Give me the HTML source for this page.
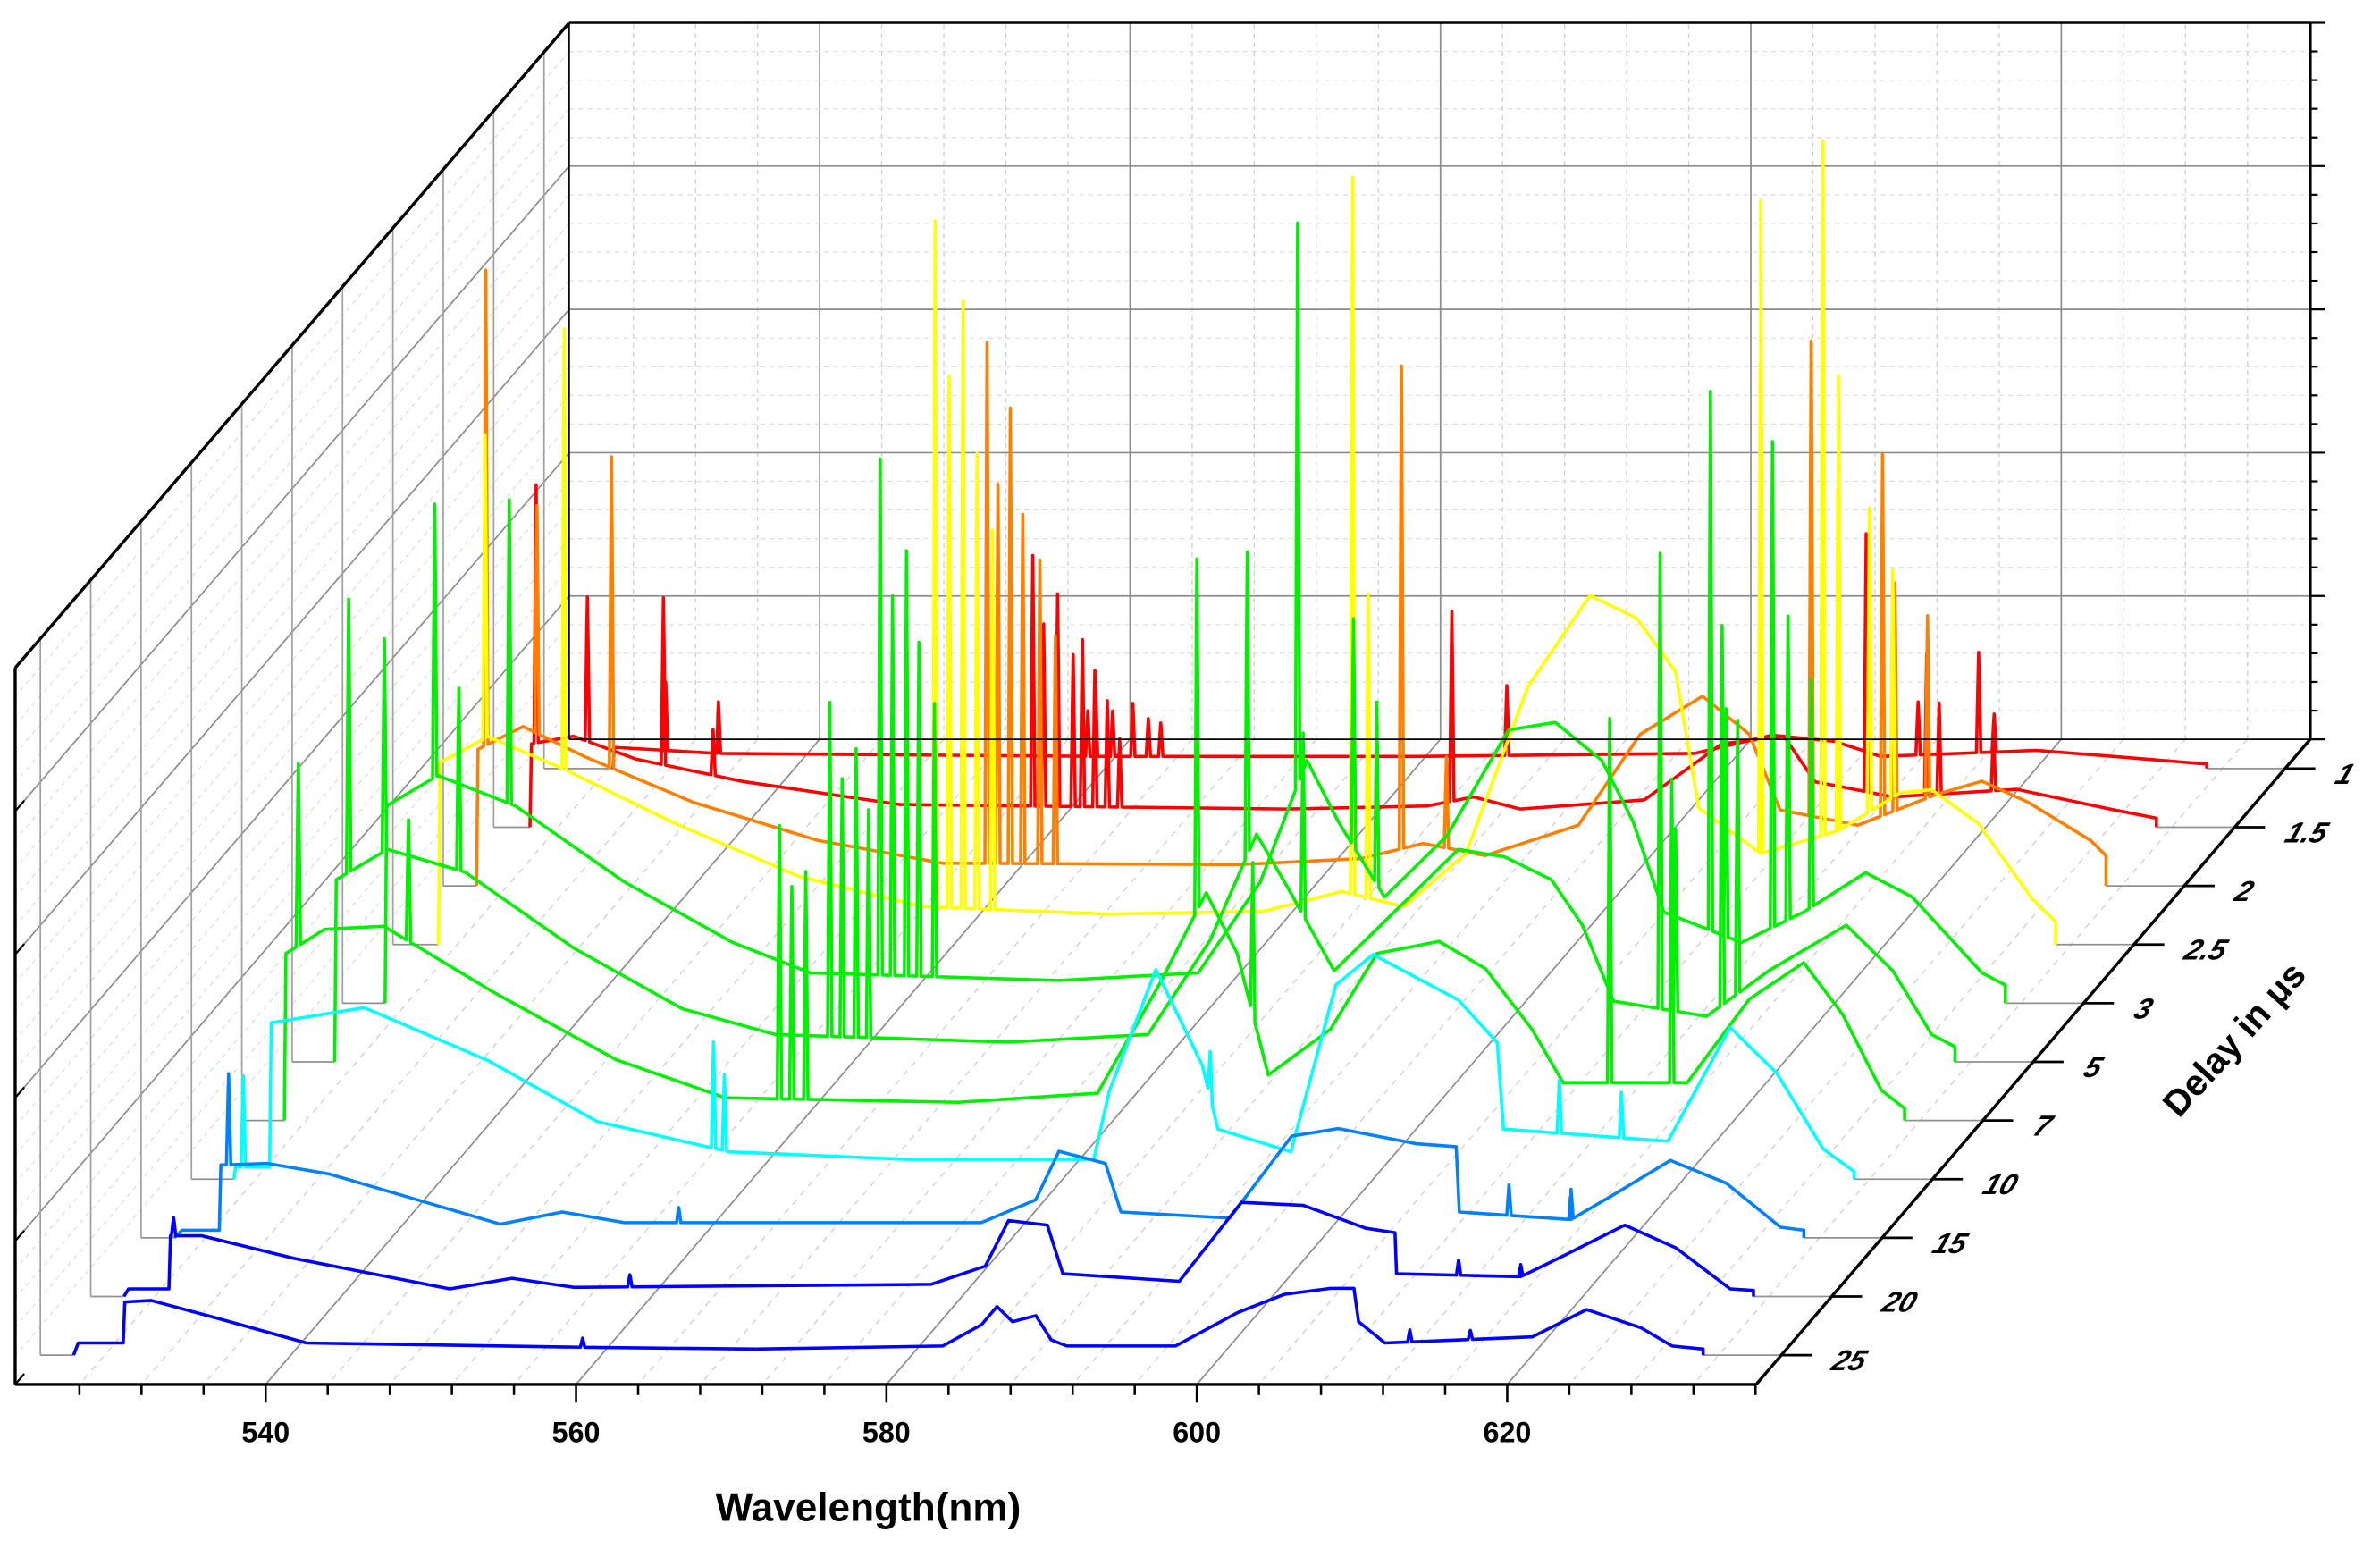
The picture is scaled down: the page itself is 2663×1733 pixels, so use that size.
<!DOCTYPE html>
<html><head><meta charset="utf-8"><title>Time-resolved spectra waterfall</title>
<style>
html,body{margin:0;padding:0;background:#fff;}
svg{display:block;}
text{font-family:"Liberation Sans",Arial,sans-serif;font-weight:bold;fill:#000;}
</style></head>
<body>
<svg id="chart" width="2663" height="1733" viewBox="0 0 1568 1020.4" preserveAspectRatio="none" xmlns="http://www.w3.org/2000/svg">
  <g id="grid"></g>
  <g id="series"></g>
  <g id="axes"></g>
  <text x="572" y="1002" font-size="26" text-anchor="middle">Wavelength(nm)</text>
  <text x="0" y="0" font-size="24" text-anchor="middle" transform="translate(1478,690) rotate(-48)">Delay in μs</text>
</svg>
<script>
// ---- data ----
const delays = ["1","1.5","2","2.5","3","5","7","10","15","20","25"];
const colors = ["#ff0000","#ff0000","#ff8000","#ffff00","#00f000","#00f000","#00f000","#00ffff","#0080ff","#0000ff","#0000ff"];
const xTicks = [540,560,580,600,620];
const zTicks = [0,1,2,3,4,5];
// envelope [wavelength nm, intensity (a.u.)] per delay
const env0 = [[528.3,0],[528.4,14],[535,10],[560,8],[580,8],[598,10],[603,22],[607,18],[610,8],[620,12],[625,8],[631,3]];
const env1 = [[526.2,0],[526.3,55],[529,60],[533,45],[540,30],[550,15],[575,12],[584,14],[587,20],[590,12],[598,18],[603,55],[607,60],[609,30],[614,20],[622,25],[628,12],[631,6]];
const env2 = [[526.0,0],[526.1,90],[529,105],[533,85],[540,55],[548,30],[556,15],[575,14],[583,18],[587,28],[591,20],[597,40],[601,100],[605,125],[608,100],[610,50],[615,40],[620,60],[623,69],[626,55],[630,30],[631,20]];
const env3 = [[526.8,0],[526.9,120],[530,137],[535,115],[542,80],[550,45],[558,25],[570,20],[580,22],[585,35],[589,25],[593,60],[597,170],[601,230],[604,215],[606.5,180],[608,90],[612,60],[617,75],[621,100],[623,102],[626,80],[629.5,30],[631,15]];
const env4 = [[526.6,0],[526.7,130],[530,150],[535,130],[542,80],[549,40],[554,20],[570,15],[579,20],[583,80],[586,160],[588,120],[591,70],[595,110],[599,180],[602,185],[605,160],[607,120],[609,60],[614,40],[618,60],[622,86],[625,70],[629.5,20],[631,12]];
const env5 = [[526.6,0],[526.7,120],[530,140],[535,125],[542,75],[549,35],[555,18],[570,13],[579,18],[583,80],[586,150],[588,115],[591,60],[595,100],[599,140],[602,135],[605,120],[607,90],[609,40],[615,30],[619,60],[624,90],[627,60],[629.5,18],[631,10]];
const env6 = [[526.6,0],[526.7,110],[529.2,126],[533,128],[540,85],[548,40],[555,15],[570,12],[579,18],[583,90],[586,150],[588,110],[590,30],[594,60],[597,110],[601,118],[604,100],[607,60],[609,25],[617,25],[621,80],[624.5,104],[627,70],[629.5,20],[631,8]];
const env7 = [[526.6,0],[526.7,8],[528.9,8],[529,103],[535,113],[543,78],[550,38],[558.5,18],[570,13],[582,13],[583,58],[586,138],[589,75],[590,33],[594.7,18],[597.6,128],[600,148],[605.5,118],[608,90],[608.4,33],[619,25],[623,100],[626,70],[629,20],[631,5]];
const env8 = [[526,0],[526.5,5],[528.9,5],[529,48],[532,49],[536,42],[547,9],[551,17],[555,10],[578,10],[581.5,25],[583,57],[586,49],[587,17],[594,13],[598,67],[601,72],[606,62],[608.6,60],[608.8,17],[616,12],[619,30],[622.4,51],[626,36],[629.5,7],[631,5]];
const env9 = [[526,0],[526.3,5],[528.9,5],[529,40],[531,40],[537,25],[547,5],[551,12],[555,6],[578,8],[581.5,20],[583,50],[585.5,47],[586.5,15],[594,10],[598,62],[602,60],[606,45],[607.9,42],[608,15],[616,13],[619,28],[622.7,47],[626,32],[629.5,5],[631,4]];
const env10 = [[526,0],[526.3,8],[529.2,8],[529.3,35],[531,36],[535,25],[541,8],[560,5],[570,4],[582,6],[584.5,20],[585.5,32],[586.5,22],[588,26],[589,10],[590,6],[597,6],[601,28],[604,40],[607,44],[608.5,44],[608.8,22],[610.5,8],[620,12],[623.5,30],[627,18],[629,6],[631,4]];
// emission lines [wavelength nm, line height above continuum]
const pk0 = [[531.7,45],[535.1,34],[558.9,30],[559.4,46],[560.5,30],[561.8,35],[562.8,25],[563.6,22],[585.9,46],[612.4,35],[616.3,66],[617.3,25]];
const pk1 = [[526.6,170],[529.9,95],[534.8,110],[538,30],[558.6,165],[559.3,120],[560.2,140],[561.2,100],[561.8,110],[562.6,90],[563.4,70],[564.2,45],[585.6,125],[612.3,170],[616.2,93],[617,60],[620.5,40]];
const pk2 = [[526.6,313],[529.9,150],[534.7,205],[558.9,343],[559.6,250],[560.4,300],[561.2,230],[562.3,200],[563.3,150],[585.6,318],[588.5,60],[612,313],[616.6,238],[617.4,150],[619.5,120]];
const pk3 = [[526.9,452],[529.8,200],[534.9,290],[558.8,452],[559.7,350],[560.6,400],[561.5,300],[562.5,250],[585.7,472],[586.7,200],[612,430],[616,457],[617,300],[619,200],[620.5,150]];
const pk4 = [[526.7,345],[529.8,180],[534.6,200],[558.5,340],[559.3,250],[560.2,280],[561,220],[562,180],[585.4,370],[589,150],[590.5,120],[612,355],[613,150],[616,320],[617,200],[618.5,150]];
const pk5 = [[526.6,130],[527.5,180],[529.8,140],[534.6,120],[558.5,220],[559.3,170],[560.2,190],[561,150],[585.4,200],[589,120],[612,300],[613,120],[616,250],[617,180]];
const pk6 = [[526.6,173],[527.5,120],[534.6,80],[558.5,180],[559.3,140],[560.2,150],[585.4,232],[589,100],[612,240],[616,200]];
const pk7 = [[526.6,76],[527.2,60],[557.5,70],[558.2,50],[589.5,30],[612,35],[616,30]];
const pk8 = [[529.5,60],[558.5,10],[612,20],[616,20]];
const pk9 = [[529.2,12],[558.6,8],[612,10],[616,8]];
const pk10 = [[558.8,6],[612.1,8],[616,6]];
const envs = [env0,env1,env2,env3,env4,env5,env6,env7,env8,env9,env10];
const peaks = [pk0,pk1,pk2,pk3,pk4,pk5,pk6,pk7,pk8,pk9,pk10];

// ---- geometry ----
const WL0 = 523.86, WL1 = 636.04;
const FX0 = 10, FX1 = 1157, FY = 912, DX = 365, DY = 425, ZH = 472;
const NS = delays.length;
function xFront(wl){ return FX0 + (wl - WL0) * (FX1 - FX0) / (WL1 - WL0); }
function depthF(i){ return (i + 0.5) / NS; }   // 0 = back, 1 = front
function proj(wl, f, z){ return [xFront(wl) + DX*(1-f), FY - DY*(1-f) - z]; }
function zPix(u){ return u * ZH / 5; }
function zVal(v){ return v; } // intensity a.u. -> px
const NS_ = "http://www.w3.org/2000/svg";
function mk(tag, attrs, parent){ const e = document.createElementNS(NS_, tag); for (const k in attrs) e.setAttribute(k, attrs[k]); parent.appendChild(e); return e; }
const grid = document.getElementById('grid'), axes = document.getElementById('axes'), ser = document.getElementById('series');
function line(p, q, stroke, w, parent, dash){ const a = {x1:p[0],y1:p[1],x2:q[0],y2:q[1],stroke:stroke,'stroke-width':w}; if (dash) a['stroke-dasharray'] = dash; return mk('line', a, parent); }

// back wall grid
for (let wl = 528; wl <= 636; wl += 4) {
  const major = xTicks.indexOf(wl) >= 0;
  const l = line(proj(wl,0,0), proj(wl,0,ZH), major ? '#8c8c8c' : '#d0d0d0', major ? 1 : 0.8, grid, major ? null : '3,3');
  
  
  const fl = line(proj(wl,0,0), proj(wl,1,0), major ? '#8c8c8c' : '#d0d0d0', major ? 1 : 0.8, grid, major ? null : '4,4');
  
  
}
for (let k = 1; k < 25; k++) {
  const z = ZH * k / 25;
  const major = k % 5 === 0;
  const l = line(proj(WL0,0,z), proj(WL1,0,z), major ? '#8c8c8c' : '#dcdcdc', major ? 1 : 0.7, grid, major ? null : '3,3');
  
  
  const s = line(proj(WL0,0,z), proj(WL0,1,z), major ? '#8c8c8c' : '#dcdcdc', major ? 1 : 0.7, grid, major ? null : '3,3');
  
  
}
for (let i = 0; i < NS; i++) {
  const f = depthF(i);
  const v = line(proj(WL0,f,0), proj(WL0,f,ZH), '#a0a0a0', 1, grid);
  
  
}

// series
function interp(env, wl){
  for (let k = 0; k < env.length-1; k++) {
    if (wl >= env[k][0] && wl <= env[k+1][0]) {
      const t = (wl - env[k][0]) / (env[k+1][0] - env[k][0]);
      return env[k][1] + t*(env[k+1][1] - env[k][1]);
    }
  }
  return 0;
}
for (let i = 0; i < NS; i++) {
  const f = depthF(i), env = envs[i], pk = peaks[i];
  const start = env[0][0], end = env[env.length-1][0];
  let pts = env.map(p => [p[0], p[1]]);
  pk.forEach(p => {
    if (p[0] <= start + 0.15 || p[0] >= end - 0.15) return;
    const b1 = interp(env, p[0]-0.14), b2 = interp(env, p[0]+0.14), b = interp(env, p[0]);
    pts.push([p[0]-0.14, b1], [p[0]-0.04, b + p[1]*0.75], [p[0], b + p[1]], [p[0]+0.04, b + p[1]*0.75], [p[0]+0.14, b2]);
  });
  pts.sort((a, b) => a[0] - b[0]);
  const lead = line(proj(WL0,f,0), proj(start,f,0), '#909090', 1, ser);
  
  
  const tail = line(proj(end,f,0), proj(WL1,f,0), '#909090', 1, ser);
  
  
  pts.push([end, 0]);
  const d = pts.map((p, k) => { const q = proj(p[0], f, zVal(p[1])); return (k ? 'L' : 'M') + q[0].toFixed(2) + ',' + q[1].toFixed(2); }).join('');
  const path = mk('path', {d: d, fill: 'none', stroke: colors[i], 'stroke-width': 2.1, 'stroke-linejoin': 'round'}, ser);
  
  
}

// axes frame
function frame(p, q, w, name){ const l = line(p, q, '#000', w, axes);   }
frame(proj(WL0,1,0), proj(WL1,1,0), 2, 'x-axis-line');
frame(proj(WL1,1,0), proj(WL1,0,0), 2, 'delay-axis-line');
frame(proj(WL0,1,0), proj(WL0,1,ZH), 2, 'z-axis-front-line');
frame(proj(WL0,1,ZH), proj(WL0,0,ZH), 2, 'left-wall-top-edge');
frame(proj(WL0,0,ZH), proj(WL1,0,ZH), 1.5, 'back-wall-top-edge');
frame(proj(WL1,0,0), proj(WL1,0,ZH), 2, 'z-axis-back-line');
frame(proj(WL0,0,0), proj(WL0,0,ZH), 1, 'back-wall-left-edge');
frame(proj(WL0,0,0), proj(WL1,0,0), 1, 'back-wall-bottom-edge');
for (let wl = 528; wl <= 636; wl += 4) {
  const major = xTicks.indexOf(wl) >= 0;
  const p = proj(wl,1,0);
  const t = line(p, [p[0], p[1] + (major ? 12 : 7)], '#000', 1.5, axes);
  
  
}
xTicks.forEach(wl => {
  const p = proj(wl,1,0);
  const tx = mk('text', {x: p[0], y: p[1] + 38, 'font-size': 19, 'text-anchor': 'middle'}, axes);
  tx.textContent = wl;
  
  
});
for (let k = 0; k <= 25; k++) {
  const z = ZH * k / 25, major = k % 5 === 0;
  const p = proj(WL1,0,z);
  const t = line(p, [p[0] + (major ? 10 : 5), p[1]], '#000', 1.3, axes);
  
  
}
zTicks.forEach(u => {
  const p = proj(WL0,1,zPix(u));
  const t = line(p, [p[0] + 6, p[1] - 7], '#000', 1.3, axes);
  
  
});
delays.forEach((lab, i) => {
  const p = proj(WL1, depthF(i), 0);
  const t = line(p, [p[0] + 20, p[1]], '#000', 1.6, axes);
  
  
  const tx = mk('text', {x: 0, y: 0, 'font-size': 19, 'font-style': 'italic', 'text-anchor': 'start', transform: 'translate(' + (p[0] + 32) + ',' + (p[1] + 10) + ') skewX(-20)'}, axes);
  tx.textContent = lab;
  
  
});
</script>
</body></html>
